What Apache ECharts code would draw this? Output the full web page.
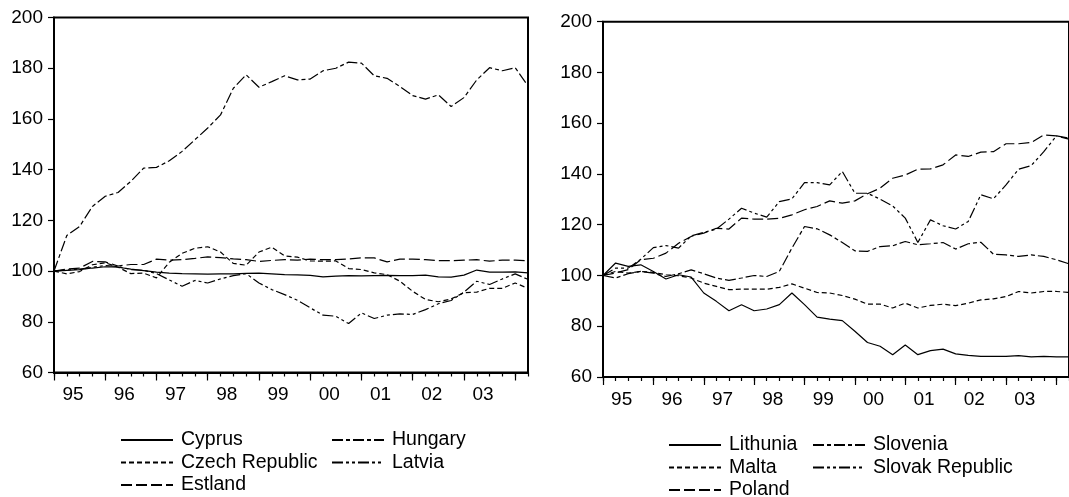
<!DOCTYPE html>
<html>
<head>
<meta charset="utf-8">
<script src="https://cdn.jsdelivr.net/npm/echarts@6/dist/echarts.min.js"></script>
<style>
  html, body { margin: 0; padding: 0; background: #fff; }
  #box { width: 1069px; height: 497px; }
</style>
</head>
<body>
<div id="box"></div>
<script>
// quarterly observations, 1995Q1 - 2004Q2
const quarters = [
  '1995Q1', '1995Q2', '1995Q3', '1995Q4', '1996Q1', '1996Q2', '1996Q3', '1996Q4',
  '1997Q1', '1997Q2', '1997Q3', '1997Q4', '1998Q1', '1998Q2', '1998Q3', '1998Q4',
  '1999Q1', '1999Q2', '1999Q3', '1999Q4', '2000Q1', '2000Q2', '2000Q3', '2000Q4',
  '2001Q1', '2001Q2', '2001Q3', '2001Q4', '2002Q1', '2002Q2', '2002Q3', '2002Q4',
  '2003Q1', '2003Q2', '2003Q3', '2003Q4', '2004Q1', '2004Q2'
]
const yTicks = [60, 80, 100, 120, 140, 160, 180, 200]

// left panel
const cyprus = [100, 100.3, 100.6, 101.2, 101.7, 101.5, 100.8, 100.2, 99.6, 99.2, 99, 98.9, 98.8, 98.9, 98.9, 99.1, 99.2, 98.9, 98.6, 98.5, 98.3, 97.7, 98, 98.2, 98.1, 98.2, 98.3, 98.2, 98.2, 98.4, 97.7, 97.6, 98.4, 100.4, 99.6, 99.6, 99.7, 99.3]
const czech = [100, 98.9, 99.8, 102.5, 103.3, 101.5, 99, 99.2, 97.3, 103.5, 107, 109, 109.6, 107.5, 103, 102.3, 107.5, 109.4, 106, 105.5, 104, 103.9, 104, 101, 100.6, 99.3, 98.6, 96, 92, 88.8, 87.9, 89, 91.5, 91.7, 93.2, 93.2, 95.3, 93.2]
const estland = [100, 100.8, 101.2, 103.8, 103.6, 102, 102.6, 102.6, 104.7, 104.3, 104.5, 105, 105.6, 105.3, 104.8, 104.5, 103.8, 104.2, 104.5, 104.3, 104.7, 104.5, 104.5, 104.8, 105.2, 105.2, 103.6, 104.7, 104.7, 104.5, 104.1, 104.1, 104.3, 104.5, 103.9, 104.3, 104.3, 104.1]
const hungary = [100, 114, 117.6, 125.5, 129.5, 131, 135.4, 140.6, 140.9, 143.5, 147.2, 151.8, 156.4, 161.6, 172.1, 177.4, 172.5, 174.7, 177, 175.4, 175.7, 179, 180, 182.4, 182, 177, 176, 172.8, 169.2, 167.8, 169.5, 164.9, 168.4, 175.4, 180.2, 179, 180.2, 173]
const latvia = [100, 100.4, 100.8, 101.5, 102.2, 101.8, 100.6, 100.3, 99, 96.5, 94, 96.3, 95.3, 96.9, 98.2, 99, 95.3, 92.7, 90.7, 88.5, 85.5, 82.6, 82.2, 79.3, 83.5, 81.3, 82.6, 83.1, 82.9, 84.8, 87.1, 88.4, 91.7, 96, 94.7, 96.9, 98.9, 96.7]

// right panel
const lithunia = [100, 104.9, 103.6, 104.2, 101.6, 98.6, 100.3, 99.4, 93.1, 89.8, 86.1, 88.5, 86.1, 86.8, 88.5, 93.1, 88.5, 83.6, 82.8, 82.2, 78, 73.6, 72.1, 68.8, 72.6, 68.8, 70.4, 71, 69.1, 68.5, 68.1, 68.1, 68.1, 68.4, 67.9, 68.1, 67.9, 67.9]
const malta = [100, 101.6, 100.9, 101.6, 101.2, 100.3, 99.9, 99, 97, 95.7, 94.4, 94.6, 94.6, 94.6, 95.3, 96.7, 95, 93.3, 93.1, 92.1, 90.7, 88.7, 88.7, 87.2, 89.1, 87.2, 88.2, 88.7, 88.1, 89.1, 90.4, 90.8, 91.7, 93.7, 93.1, 93.7, 93.7, 93.3]
const poland = [100, 101, 102.3, 106.2, 106.8, 108.8, 112.7, 115.4, 116.7, 118.6, 118.3, 122.6, 122.2, 122.2, 122.5, 123.9, 125.9, 127.2, 129.4, 128.5, 129.4, 132.2, 134.4, 138.3, 139.6, 141.9, 142, 143.6, 147.5, 146.9, 148.6, 148.8, 151.9, 151.9, 152.4, 155.4, 155, 153.7]
const slovenia = [100, 99, 100.7, 101.6, 100.9, 99.6, 100.7, 102.2, 100.7, 99, 98.1, 99, 100, 99.6, 101.6, 110.8, 119.3, 118.4, 116, 113, 109.7, 109.5, 111.4, 111.7, 113.4, 112.1, 112.5, 113, 110.4, 112.5, 113.1, 108.4, 108.1, 107.5, 108.1, 107.5, 106.2, 104.6]
const slovak = [100, 102.9, 102.9, 106.4, 111, 111.8, 110.8, 115.6, 117, 118.3, 122.2, 126.5, 124.6, 123, 129.1, 130.2, 136.6, 136.6, 135.7, 141, 132.4, 132.4, 130.1, 127.4, 122.6, 113, 121.9, 119.6, 118.3, 121.3, 131.8, 130.2, 135.7, 141.9, 143.3, 148.8, 155, 154.1]

const FONT = 'Liberation Sans, Arial, sans-serif'
const dash = {
  solid: 'solid',
  short: [5, 3],
  long: [11, 4],
  dot1: [11, 3, 4, 3],
  dot2: [11, 3, 3, 3, 3, 3]
}

function xAxes (grid) {
  return [
    {
      gridIndex: grid,
      type: 'category',
      position: 'bottom',
      data: quarters,
      boundaryGap: false,
      axisLine: { lineStyle: { color: '#000', width: 2 } },
      axisTick: { interval: 0, length: 4, lineStyle: { color: '#000', width: 1.2 } },
      axisLabel: {
        interval: (i) => i % 4 === 2 && i < 36,
        formatter: (v) => v.slice(2, 4),
        color: '#000',
        fontSize: 19,
        fontFamily: FONT,
        margin: 13,
        padding: [0, 13, 0, 0]
      },
      splitLine: { show: false }
    },
    {
      gridIndex: grid,
      type: 'category',
      position: 'bottom',
      data: quarters,
      boundaryGap: false,
      axisLine: { show: false },
      axisTick: { interval: 3, length: 8, lineStyle: { color: '#000', width: 1.2 } },
      axisLabel: { show: false },
      splitLine: { show: false }
    }
  ]
}

function yAxis (grid) {
  return {
    gridIndex: grid,
    type: 'value',
    min: yTicks[0],
    max: yTicks[yTicks.length - 1],
    interval: 20,
    axisLine: { show: true, lineStyle: { color: '#000', width: 2 } },
    axisTick: { show: true, length: 6, lineStyle: { color: '#000', width: 1.2 } },
    axisLabel: { color: '#000', fontSize: 19, fontFamily: FONT, margin: 11 },
    splitLine: { show: false }
  }
}

function line (name, data, type, axis) {
  return {
    name,
    type: 'line',
    data,
    xAxisIndex: axis * 2,
    yAxisIndex: axis,
    symbol: 'none',
    animation: false,
    itemStyle: { color: '#000' },
    lineStyle: { color: '#000', width: 1.2, type }
  }
}

function legend (names, left, top) {
  return {
    data: names,
    orient: 'vertical',
    left,
    top,
    height: 100,
    padding: 0,
    itemWidth: 52,
    itemHeight: 14,
    itemGap: 0.5,
    itemStyle: { opacity: 0 },
    textStyle: { color: '#000', fontSize: 19.5, fontFamily: FONT, lineHeight: 22, padding: [0, 0, 0, 3] }
  }
}

const chart = echarts.init(document.getElementById('box'))
chart.setOption({
  backgroundColor: '#fff',
  animation: false,
  grid: [
    { left: 54, top: 17.5, width: 474, height: 355, show: true, borderColor: '#000', borderWidth: 2 },
    { left: 603, top: 21.7, width: 471.75, height: 355.3, show: true, borderColor: '#000', borderWidth: 2 }
  ],
  xAxis: [...xAxes(0), ...xAxes(1)],
  yAxis: [yAxis(0), yAxis(1)],
  legend: [
    legend(['Cyprus', 'Czech Republic', 'Estland'], 120, 429),
    legend(['Hungary', 'Latvia'], 331, 429),
    legend(['Lithunia', 'Malta', 'Poland'], 668, 434),
    legend(['Slovenia', 'Slovak Republic'], 812, 434)
  ],
  series: [
    line('Cyprus', cyprus, dash.solid, 0),
    line('Czech Republic', czech, dash.short, 0),
    line('Estland', estland, dash.long, 0),
    line('Hungary', hungary, dash.dot1, 0),
    line('Latvia', latvia, dash.dot2, 0),
    line('Lithunia', lithunia, dash.solid, 1),
    line('Malta', malta, dash.short, 1),
    line('Poland', poland, dash.long, 1),
    line('Slovenia', slovenia, dash.dot1, 1),
    line('Slovak Republic', slovak, dash.dot2, 1)
  ]
})
</script>
</body>
</html>
